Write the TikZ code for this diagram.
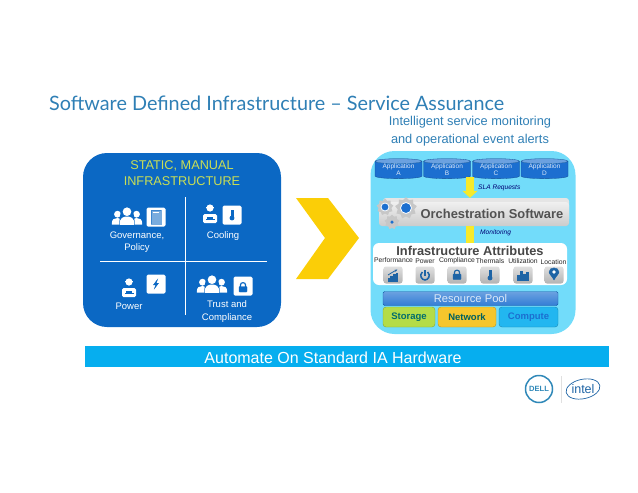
\documentclass[tikz,border=0pt]{standalone}
\usepackage{fontspec}
\setmainfont{Liberation Sans}
\newfontfamily\titlefont{Lato}
\usetikzlibrary{positioning,arrows.meta,shapes.geometric,calc}
\definecolor{slidetitle}{HTML}{2F7FB5}
\definecolor{panelblue}{HTML}{0B68C4}
\definecolor{panellime}{HTML}{C9DE55}
\definecolor{chevyellow}{HTML}{FBCE07}
\definecolor{panelcyan}{HTML}{72DCFA}
\definecolor{barblue}{HTML}{06AEEF}
\definecolor{appblue}{HTML}{1C6FD0}
\definecolor{slaarrow}{HTML}{F7EA2A}
\definecolor{dellblue}{HTML}{2F88B8}
\definecolor{intelblue}{HTML}{1E64A5}
\definecolor{storagegreen}{HTML}{B4DC48}
\definecolor{networkgold}{HTML}{F6C62C}
\definecolor{computeblue}{HTML}{22B6F0}
\newcommand{\px}[2]{\fontsize{#1}{#2}\selectfont}

\tikzset{
    person/.pic={
        \fill[white] (0,-4) circle (3.6);
        \fill[white] (-6,7) .. controls (-6.5,1) and (-3,0) .. (0,0) .. controls (3,0) and (6.5,1) .. (6,7) -- cycle;
    },
    crowd/.pic={
        \pic[scale=0.95] at (-9.5,1) {person};
        \pic[scale=0.95] at (9.5,1) {person};
        \fill[panelblue] (-7.5,8) .. controls (-8,-1) and (-6,-9.5) .. (0,-9.5) .. controls (6,-9.5) and (8,-1) .. (7.5,8) -- cycle;
        \pic[scale=1.2] at (0,-0.5) {person};
    },
    worker/.pic={
        \fill[white] (0,-5) circle (3.6);
        \fill[white] (-4,-5.6) rectangle (4,-4.9);
        \fill[white, rounded corners=1.5pt] (-7,10) -- (-7,1) -- (7,1) -- (7,10) -- cycle;
        \fill[panelblue] (-3,3.5) rectangle (3,6);
        \fill[panelblue] (-4.5,6) rectangle (4.5,7.2);
    },
    thermglyph/.pic={
        \fill[pic actions] (-0.9,-5) rectangle (0.9,2);
        \fill[pic actions] (0,3) circle (2.2);
    },
    lockglyph/.pic={
        \draw[pic actions, fill=none, line width=1.2pt] (-2.5,0) -- (-2.5,-2.2) .. controls (-2.5,-5) and (2.5,-5) .. (2.5,-2.2) -- (2.5,0);
        \fill[pic actions, rounded corners=0.6pt] (-4,-0.5) rectangle (4,5);
    },
    boltglyph/.pic={
        \fill[pic actions] (1.5,-4.5) -- (-2.5,0.8) -- (-0.2,0.8) -- (-1.5,4.5) -- (2.5,-0.8) -- (0.2,-0.8) -- cycle;
    },
    docglyph/.pic={
        \fill[pic actions, opacity=0.55] (-5,-7) rectangle (5,7);
        \fill[white] (-3.4,-5.4) rectangle (3.4,5.4);
        \fill[pic actions, opacity=0.55] (-2.4,-3.5) rectangle (2.4,4);
    },
    powerglyph/.pic={
        \draw[pic actions, fill=none, line width=1.5pt] (-2.6,-3) .. controls (-6.4,0.5) and (-3,5) .. (0,5) .. controls (3,5) and (6.4,0.5) .. (2.6,-3);
        \draw[pic actions, fill=none, line width=1.5pt] (0,-5) -- (0,0.5);
    },
    chartglyph/.pic={
        \fill[pic actions] (-5,2) rectangle (-3.4,5);
        \fill[pic actions] (-2.4,0) rectangle (-0.8,5);
        \fill[pic actions] (0.2,-1.5) rectangle (1.8,5);
        \fill[pic actions] (2.8,-3) rectangle (4.4,5);
        \draw[pic actions, fill=none, line width=0.8pt, -{Stealth[length=3pt]}] (-5,-1) -- (-1,-3.5) -- (4.5,-6.5);
    },
    barsglyph/.pic={
        \fill[pic actions] (-5.5,-1) rectangle (-3.5,4);
        \fill[pic actions] (-2.8,-5) rectangle (-0.8,4);
        \fill[pic actions] (0,-2) rectangle (2,4);
        \fill[pic actions] (2.8,-4) rectangle (4.8,4);
    },
    pinglyph/.pic={
        \fill[pic actions] (0,6) .. controls (-2,2) and (-5,0) .. (-5,-2) .. controls (-5,-7.5) and (5,-7.5) .. (5,-2) .. controls (5,0) and (2,2) .. (0,6) -- cycle;
        \fill[white] (0,-2) circle (1.9);
    },
}

\begin{document}
\begin{tikzpicture}[
    x=1pt, y=-1pt,
    txt/.style={text=white, align=center, inner sep=0pt, font=\px{9.5}{12}},
    iconbox/.style={fill=white, rounded corners=1.5pt, minimum size=#1, inner sep=0pt},
    appcyl/.style={draw=appblue!70!black, line width=0.3pt, cylinder, shape border rotate=90, aspect=0.16,
        minimum width=47pt, minimum height=20pt, inner sep=0pt,
        cylinder uses custom fill, cylinder end fill=appblue!65!white, cylinder body fill=appblue,
        text=white!85!appblue, align=center, font=\px{6.5}{7}},
    button/.style={rounded corners=2.5pt, top color=white!88!black, bottom color=white!70!black, minimum width=19pt, minimum height=17pt, inner sep=0pt},
    attrlbl/.style={inner sep=0pt, font=\px{6.8}{7}, text=black!85},
    slabar/.style={line width=8pt, slaarrow, -{Triangle[length=7pt,width=15pt]}},
    monbar/.style={line width=8pt, slaarrow},
    sidenote/.style={inner sep=0pt, text=blue!45!black, font=\itshape\px{6.6}{7}},
    poolbox/.style={draw=#1!75!black, line width=0.4pt, rounded corners=3pt, fill=#1, minimum height=20pt, inner sep=0pt, font=\bfseries\px{9.5}{10}},
    gear/.style={star, star points=9, star point ratio=1.3, fill=black!22, inner sep=0pt, minimum size=#1},
    gearhub/.style={circle, fill=appblue, draw=white, line width=0.8pt, inner sep=0pt, minimum size=#1},
]
\useasboundingbox (0,0) rectangle (638,493);

% slide heading
\node[anchor=base west, inner sep=0pt, text=slidetitle, font=\titlefont\px{19.8}{20}] (title) at (49,110) {Software Defined Infrastructure – Service Assurance};
\node[inner sep=0pt, align=center, text=slidetitle, font=\px{12.8}{18.5}] (intro) at (470,131) {Intelligent service monitoring\\and operational event alerts};

% left panel
\node[fill=panelblue, rounded corners=24pt, minimum width=198pt, minimum height=174pt, inner sep=0pt] (staticpanel) at (182,240) {};
\node[inner sep=0pt, align=center, text=panellime, font=\px{12.7}{16}] (statichead) at (182,173) {STATIC, MANUAL\\INFRASTRUCTURE};
\coordinate (vtop) at (185,197);
\coordinate (vbot) at (185,315);
\coordinate (hleft) at (100,261);
\coordinate (hright) at (267,261);
\draw[white, line width=0.8pt] (vtop) -- (vbot);
\draw[white, line width=0.8pt] (hleft) -- (hright);

\pic at (127,217) {crowd};
\pic at (210,213) {worker};
\pic at (129,287) {worker};
\pic at (212,285) {crowd};
\node[iconbox=19pt] (govbox) at (156,217) {};
\node[iconbox=19pt] (coolbox) at (232,215) {};
\node[iconbox=19pt] (powbox) at (156,284) {};
\node[iconbox=19pt] (trustbox) at (243,286) {};
\pic[panelblue, fill=panelblue, draw=panelblue] at (156,217) {docglyph};
\pic[panelblue, fill=panelblue, draw=panelblue] at (232,215) {thermglyph};
\pic[panelblue, fill=panelblue, draw=panelblue] at (156,284) {boltglyph};
\pic[panelblue, fill=panelblue, draw=panelblue] at (243,287) {lockglyph};

\node[txt] (govlbl) at (137,242) {Governance,\\[0.4pt]Policy};
\node[txt] (coollbl) at (223,236) {Cooling};
\node[txt] (powlbl) at (129,306) {Power};
\node[txt] (trustlbl) at (227,311.5) {Trust and\\[0.4pt]Compliance};

% chevron
\fill[chevyellow] (296,198) -- (328,198) -- (359,238) -- (328,279) -- (296,279) -- (325,238) -- cycle;

% right panel
\node[fill=panelcyan, rounded corners=24pt, minimum width=205pt, minimum height=183pt, inner sep=0pt] (assurepanel) at (473,242.5) {};

\node[appcyl] (appa) at (398.5,170) {Application\\A};
\node[appcyl] (appb) at (447,170) {Application\\B};
\node[appcyl] (appc) at (496,170) {Application\\C};
\node[appcyl] (appd) at (544.5,170) {Application\\D};

% orchestration
\node[rounded corners=3pt, fill=black!10, minimum width=186pt, minimum height=24pt, inner sep=0pt] (orchback) at (476,210) {};
\node[rounded corners=3pt, top color=black!6, bottom color=black!20, minimum width=190pt, minimum height=24pt, inner sep=0pt, text=black!68, font=\bfseries\px{12.9}{14}] (orch) at (474,214) {\hspace{36pt}Orchestration Software};
\node[rounded corners=6pt, fill=white, minimum width=194pt, minimum height=42pt, inner sep=0pt] (attrs) at (470,264) {};

\coordinate (slatop) at (470,177);
\draw[slabar] (slatop) -- (orchback.north -| slatop);
\coordinate (montop) at (470,226);
\draw[monbar] (montop) -- (attrs.north -| montop);
\node[sidenote, anchor=west] (slalbl) at (478,188) {SLA Requests};
\node[sidenote, anchor=west] (monlbl) at (480,232.5) {Monitoring};

\node[gear=22pt] (gearb) at (406,208) {};
\node[gearhub=11pt] (hubb) at (406,208) {};
\node[gear=17pt] (geara) at (385,207) {};
\node[gearhub=8pt] (huba) at (385,207) {};
\node[gear=15pt] (gearc) at (392,222) {};
\node[circle, fill=appblue, inner sep=0pt, minimum size=3.5pt] (hubc) at (392,222) {};

% attributes
\node[inner sep=0pt, text=black!72, font=\bfseries\px{12.8}{14}] (attrhead) at (470,251) {Infrastructure Attributes};
\node[attrlbl] (perflbl) at (393.5,260.5) {Performance};
\node[attrlbl] (powerlbl) at (425,261) {Power};
\node[attrlbl] (complbl) at (457,261) {Compliance};
\node[attrlbl] (thermlbl) at (490,261) {Thermals};
\node[attrlbl] (utillbl) at (523,261) {Utilization};
\node[attrlbl] (loclbl) at (553.5,262) {Location};

\node[button] (perfbtn) at (393,275) {};
\node[button] (powerbtn) at (425,275) {};
\node[button] (compbtn) at (457,275) {};
\node[button] (thermbtn) at (490,275) {};
\node[button] (utilbtn) at (523,275) {};
\node[button] (locbtn) at (554,275) {};
\pic[intelblue, fill=intelblue, draw=intelblue] at (393,276) {chartglyph};
\pic[intelblue, fill=intelblue, draw=intelblue] at (425,275) {powerglyph};
\pic[intelblue, fill=intelblue, draw=intelblue] at (457,274.5) {lockglyph};
\pic[intelblue, fill=intelblue, draw=intelblue] at (490,275) {thermglyph};
\pic[intelblue, fill=intelblue, draw=intelblue] at (523,276) {barsglyph};
\pic[intelblue, fill=intelblue, draw=intelblue] at (554,274) {pinglyph};

% resource pool
\node[draw=appblue!80!black, line width=0.4pt, rounded corners=1.5pt, top color=appblue!65!white, bottom color=appblue!90!white, minimum width=175pt, minimum height=14pt, inner sep=0pt, text=white!85!appblue, font=\px{11.2}{12}] (pool) at (470.5,298.5) {Resource Pool};
\node[poolbox=storagegreen, minimum width=52pt, text=teal!85!black] (storage) at (409,317) {Storage};
\node[poolbox=networkgold, minimum width=58pt, text=teal!75!black] (network) at (467,317) {Network};
\node[poolbox=computeblue, minimum width=59pt, text=appblue] (compute) at (528.5,317) {Compute};

% footer
\node[fill=barblue, minimum width=524pt, minimum height=21pt, inner sep=0pt] (footbar) at (347,356.5) {};
\node[inner sep=0pt, text=white, font=\px{16}{18}] (footlbl) at (333,358) {Automate On Standard IA Hardware};

% logos
\node[circle, draw=dellblue, line width=1.5pt, minimum size=27pt, inner sep=0pt, text=dellblue, font=\bfseries\px{7.6}{8}] (delllogo) at (539,389) {DELL};
\coordinate (septop) at (561,376);
\coordinate (sepbot) at (561,403);
\draw[black!12, line width=0.8pt] (septop) -- (sepbot);
\node[ellipse, draw=intelblue, line width=0.7pt, minimum width=31pt, minimum height=15pt, inner sep=0pt, rotate=12, text=intelblue] (intellogo) at (583,389) {\rotatebox{-12}{\px{12.5}{13}intel}};

\end{tikzpicture}
\end{document}
